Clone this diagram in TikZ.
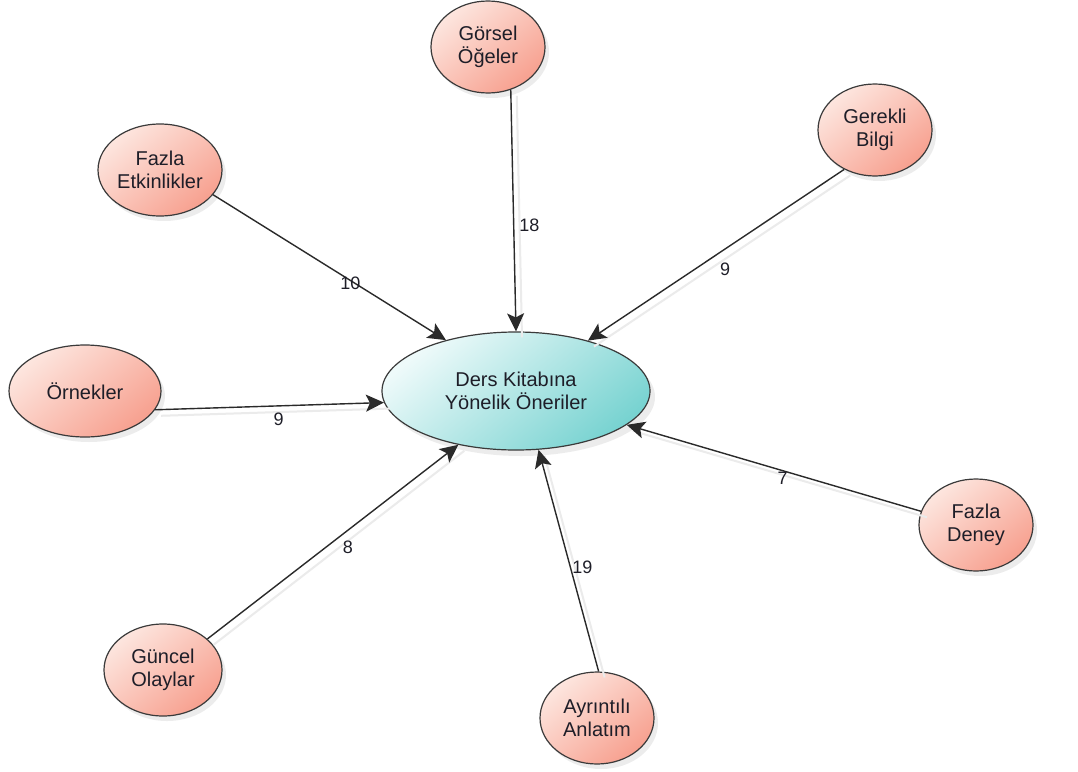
\documentclass[tikz,border=0pt]{standalone}
\usepackage{fontspec}
\setmainfont{Liberation Sans}
\usetikzlibrary{arrows.meta,shapes.geometric,shadows}
\definecolor{salmonlight}{HTML}{FDE6DF}
\definecolor{salmondark}{HTML}{F7A08F}
\definecolor{teallight}{HTML}{EEFAFA}
\definecolor{tealdark}{HTML}{78D3D1}
\definecolor{edgeline}{HTML}{2A2A2A}
\definecolor{rimline}{HTML}{3A3A3A}
\definecolor{inktext}{HTML}{1E1E28}
\tikzset{
  topic/.style={ellipse, draw=rimline, line width=1.2pt, inner sep=0pt,
    top color=salmonlight, bottom color=salmondark, shading angle=40,
    minimum width=114pt, minimum height=92pt, align=center,
    text=inktext, font=\fontsize{20}{22.5}\selectfont,
    drop shadow={shadow xshift=4pt, shadow yshift=-5pt, opacity=0.12, fill=black!60}},
  hub/.style={ellipse, draw=rimline, line width=1.2pt, inner sep=0pt,
    top color=teallight, bottom color=tealdark, shading angle=40,
    minimum width=268pt, minimum height=118pt, align=center,
    text=inktext, font=\fontsize{20}{22.5}\selectfont,
    drop shadow={shadow xshift=5pt, shadow yshift=-6pt, opacity=0.12, fill=black!60}},
  link/.style={draw=edgeline, line width=1.4pt,
    -{Stealth[length=18pt, width=17pt, inset=4pt]}},
  ghost/.style={draw=black!8, line width=2pt},
  count/.style={text=inktext, font=\fontsize{18}{20}\selectfont, inner sep=1pt},
}
\begin{document}
\begin{tikzpicture}[x=1pt, y=-1pt]
  \useasboundingbox[fill=white] (0,0) rectangle (1078,771);

  % central topic and the surrounding suggestions
  \node[hub] (c) at (516,391) {Ders Kitabına\\Yönelik Öneriler};
  \node[topic] (g)  at (488,47)  {Görsel\\Öğeler};
  \node[topic] (gb) at (875,130) {Gerekli\\Bilgi};
  \node[topic, minimum width=124pt] (fe) at (160,170) {Fazla\\Etkinlikler};
  \node[topic, minimum width=152pt] (o)  at (85,391)  {Örnekler};
  \node[topic] (fd) at (976,525) {Fazla\\Deney};
  \node[topic, minimum width=118pt] (gu) at (163,670) {Güncel\\Olaylar};
  \node[topic] (a)  at (597,718) {Ayrıntılı\\Anlatım};

  % faint shadows under the connectors
  \path[ghost] ([xshift=6pt, yshift=-6pt]o.345) -- ([xshift=6pt, yshift=-6pt]c.185);
  \path[ghost] ([xshift=6pt, yshift=-6pt]gu.35) -- ([xshift=6pt, yshift=-6pt]c.223);
  \path[ghost] ([xshift=6pt, yshift=-6pt]a.88) -- ([xshift=6pt, yshift=-6pt]c.291);
  \path[ghost] ([xshift=6pt, yshift=-6pt]fd.166) -- ([xshift=6pt, yshift=-6pt]c.343);
  \path[ghost] ([xshift=6pt, yshift=-6pt]gb.232) -- ([xshift=6pt, yshift=-6pt]c.35);
  \path[ghost] ([xshift=6pt, yshift=-6pt]g.-62) -- ([xshift=6pt, yshift=-6pt]c.90);

  % connectors with their counts
  \draw[link] (g.-62)  -- node[count, pos=0.56, anchor=west, xshift=4pt] {18} (c.90);
  \draw[link] (gb.232) -- node[count, pos=0.465, yshift=-20pt] {9} (c.35);
  \draw[link] (fe.335) -- node[count, pos=0.59, yshift=-3pt] {10} (c.144);
  \draw[link] (o.345)  -- node[count, pos=0.54, yshift=-13pt] {9} (c.185);
  \draw[link] (gu.35)  -- node[count, pos=0.56, yshift=-17pt] {8} (c.223);
  \draw[link] (a.88)   -- node[count, pos=0.47, xshift=12pt] {19} (c.291);
  \draw[link] (fd.166) -- node[count, pos=0.47, yshift=-8pt] {7} (c.343);
\end{tikzpicture}
\end{document}
